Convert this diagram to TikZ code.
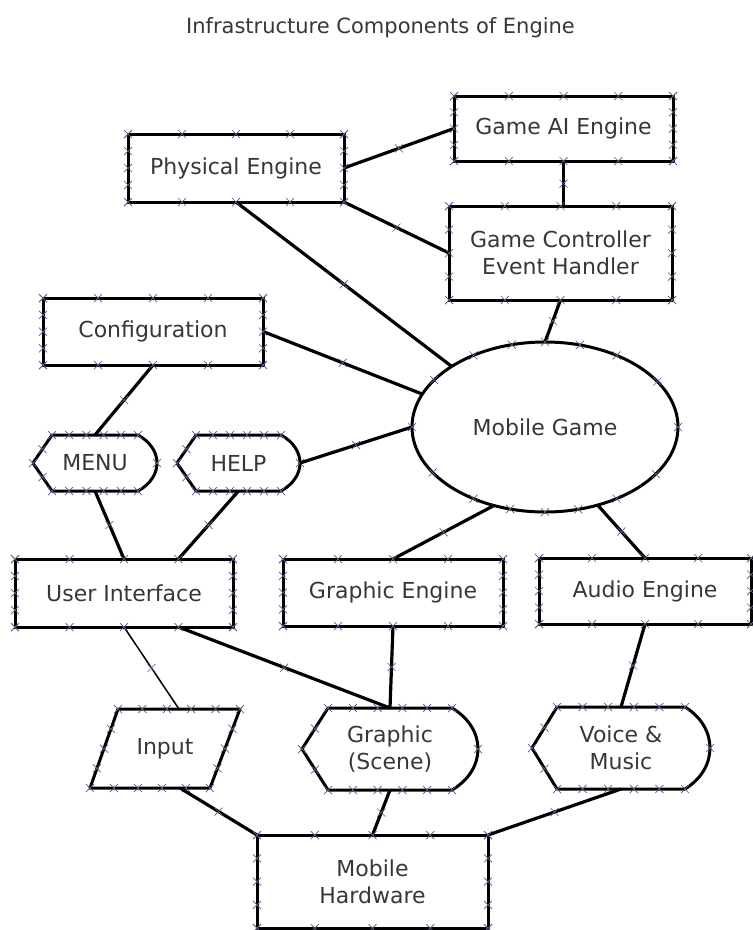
\documentclass[tikz,border=0pt]{standalone}
\usepackage{fontspec}
\setmainfont{DejaVu Sans}
\usetikzlibrary{shapes.geometric,shapes.misc,calc,decorations.markings}
\definecolor{txt}{RGB}{55,55,55}
\definecolor{xc}{RGB}{90,90,135}
\tikzset{
  lbl/.style={inner sep=0pt, outer sep=0pt, text=txt, align=center, font=\fontsize{22}{27}\selectfont},
  box/.style={lbl, rectangle, draw=black, line width=3pt},
  shp/.style={draw=black, line width=3pt, line join=round},
  xn/.style={cross out, draw=xc, line width=0.7pt, minimum size=8pt, inner sep=0pt, outer sep=0pt},
  conn/.style={draw=black, line width=3.2pt, postaction={decorate},
    decoration={markings, mark=at position 0.5 with {\node[xn]{};}}},
  thinconn/.style={conn, line width=1.5pt}
}
\newcommand\rectx[1]{%
  \foreach \t in {0,0.25,0.5,0.75,1}{%
    \path ($(#1.north west)!\t!(#1.north east)$) node[xn]{}
          ($(#1.south west)!\t!(#1.south east)$) node[xn]{}
          ($(#1.north west)!\t!(#1.south west)$) node[xn]{}
          ($(#1.north east)!\t!(#1.south east)$) node[xn]{};}}
\newcommand\dispshape[2]{% node name, inset in pt
  \draw[shp] ([xshift=#2pt]#1.north west) -- ([xshift=-#2pt]#1.north east)
    .. controls ($(#1.north east)!0.25!(#1.south east)+(#2/3,0)$) and ($(#1.south east)!0.25!(#1.north east)+(#2/3,0)$)
    .. ([xshift=-#2pt]#1.south east) -- ([xshift=#2pt]#1.south west) -- (#1.west) -- cycle;
  \foreach \t in {0,0.2,0.4,0.6,0.8,1}{%
    \path ($([xshift=#2pt]#1.north west)!\t!([xshift=-#2pt]#1.north east)$) node[xn]{}
          ($([xshift=#2pt]#1.south west)!\t!([xshift=-#2pt]#1.south east)$) node[xn]{};}
  \path ($([xshift=#2pt]#1.north west)!0.5!(#1.west)$) node[xn]{}
        ($([xshift=#2pt]#1.south west)!0.5!(#1.west)$) node[xn]{}
        (#1.west) node[xn]{} (#1.east) node[xn]{};}
\begin{document}
\begin{tikzpicture}[x=1pt,y=-1pt]
\fill[white] (0,0) rectangle (753,930);
\useasboundingbox (0,0) rectangle (753,930);

\node[lbl, font=\fontsize{21}{25}\selectfont, anchor=base] (title) at (380.5,33) {Infrastructure Components of Engine};

% rectangles
\node[box, minimum width=216pt, minimum height=68pt] (PE) at (236,168) {Physical Engine};
\node[box, minimum width=219pt, minimum height=65pt] (GA) at (563.5,128.5) {Game AI Engine};
\node[box, minimum width=223pt, minimum height=94pt] (GC) at (560.5,253) {Game Controller\\Event Handler};
\node[box, minimum width=220pt, minimum height=67pt] (CF) at (153,331.5) {Configuration};
\node[box, minimum width=218pt, minimum height=68pt] (UI) at (124,593) {User Interface};
\node[box, minimum width=220pt, minimum height=67pt] (GE) at (393,592.5) {Graphic Engine};
\node[box, minimum width=212pt, minimum height=66pt] (AE) at (645,591) {Audio Engine};
\node[box, minimum width=231pt, minimum height=93pt] (MH) at (372.5,881.5) {Mobile\\Hardware};

% ellipse
\node[lbl, ellipse, draw=black, line width=3pt, minimum width=266pt, minimum height=170pt] (MG) at (545,427) {Mobile Game};

% display shapes
\node[lbl, minimum width=124pt, minimum height=56pt] (MENU) at (95,463) {MENU};
\node[lbl, minimum width=123pt, minimum height=56pt] (HELP) at (238.5,463) {HELP};
\node[lbl, minimum width=176pt, minimum height=82pt] (GS) at (390,749) {Graphic\\(Scene)};
\node[lbl, minimum width=178pt, minimum height=82pt] (VM) at (621,748) {Voice \&\\Music};
\dispshape{MENU}{19}
\dispshape{HELP}{19}
\dispshape{GS}{26}
\dispshape{VM}{25}

% parallelogram
\node[lbl, minimum width=150pt, minimum height=79pt] (IN) at (165,748.5) {Input};
\draw[shp] ([xshift=28pt]IN.north west) -- (IN.north east) -- ([xshift=-30pt]IN.south east) -- (IN.south west) -- cycle;
\foreach \t in {0,0.2,0.4,0.6,0.8,1}{%
  \path ($([xshift=28pt]IN.north west)!\t!(IN.north east)$) node[xn]{}
        ($(IN.south west)!\t!([xshift=-30pt]IN.south east)$) node[xn]{};}
\foreach \t in {0.25,0.5,0.75}{%
  \path ($([xshift=28pt]IN.north west)!\t!(IN.south west)$) node[xn]{}
        ($(IN.north east)!\t!([xshift=-30pt]IN.south east)$) node[xn]{};}

% connectors
\draw[conn] (PE.east) -- (GA.west);
\draw[conn] (PE.south east) -- (GC.west);
\draw[conn] (GA.south) -- (GA.south |- GC.north);
\draw[conn] (PE.south) -- (MG.147);
\draw[conn] (GC.south) -- (MG.north);
\draw[conn] (CF.east) -- (MG.165);
\draw[conn] (CF.south) -- (MENU.north);
\draw[conn] (HELP.east) -- (MG.west);
\draw[conn] (MENU.south) -- (UI.north);
\draw[conn] (HELP.south) -- ($(UI.north west)!0.75!(UI.north east)$);
\draw[conn] (MG.237) -- (GE.north);
\draw[conn] (MG.304) -- (AE.north);
\draw[thinconn] (UI.south) -- ([xshift=14pt]IN.north);
\draw[conn] ($(UI.south west)!0.75!(UI.south east)$) -- (GS.north);
\draw[conn] (GE.south) -- (GS.north);
\draw[conn] (AE.south) -- (VM.north);
\draw[conn] ($(IN.south west)!0.75!([xshift=-30pt]IN.south east)$) -- (MH.north west);
\draw[conn] (GS.south) -- (MH.north);
\draw[conn] (VM.south) -- (MH.north east);

% connection point markers
\foreach \n in {PE,GA,GC,CF,UI,GE,AE,MH}{\rectx{\n}}
\foreach \a in {0,22,45,67,90,112,135,157,180,202,225,247,270,292,315,337}{\path (MG.\a) node[xn]{};}
\end{tikzpicture}
\end{document}
